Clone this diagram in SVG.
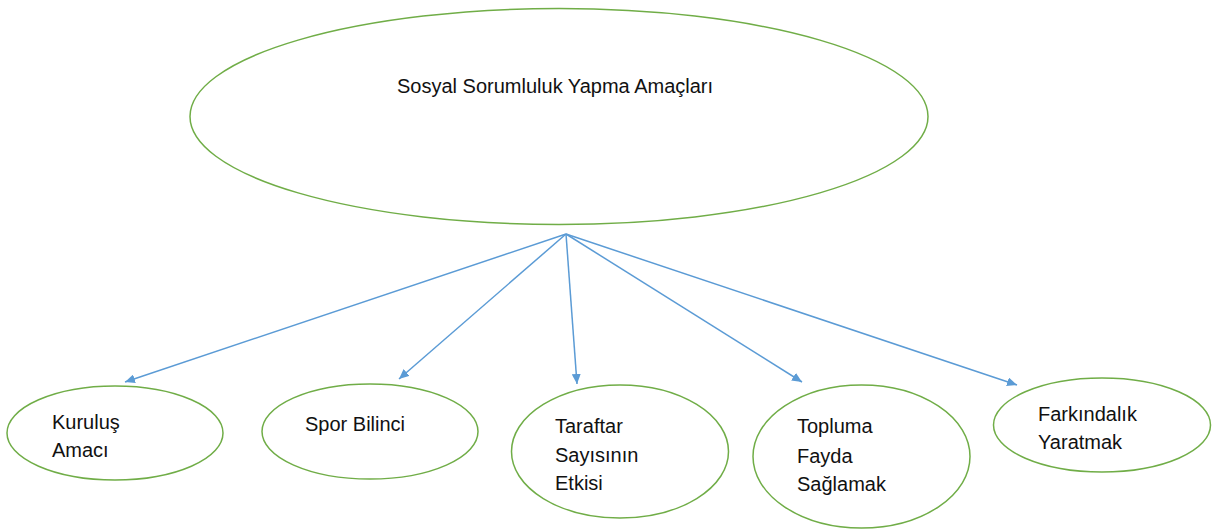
<svg xmlns="http://www.w3.org/2000/svg" width="1222" height="532" viewBox="0 0 1222 532">
<style>
.node ellipse{fill:#fff;stroke:#70AD47;stroke-width:1.5}
.node text{font-family:"Liberation Sans",Arial,sans-serif;font-size:20px;fill:#111}
.conn line{stroke:#5B9BD5;stroke-width:1.5;marker-end:url(#arr)}
</style>
<defs>
<marker id="arr" viewBox="0 0 10 10" refX="10" refY="5" markerWidth="10" markerHeight="9" markerUnits="userSpaceOnUse" orient="auto" preserveAspectRatio="none">
<path d="M0,0 L10,5 L0,10 z" fill="#5B9BD5"/>
</marker>
</defs>
<rect width="1222" height="532" fill="#fff"/>
<g id="root" class="node">
<ellipse cx="559" cy="116.5" rx="369" ry="108"/>
<text x="397" y="93">Sosyal Sorumluluk Yapma Amaçları</text>
</g>
<g id="kurulus" class="node">
<ellipse cx="115" cy="433" rx="108" ry="47"/>
<text x="52" y="429">Kuruluş</text>
<text x="52" y="457">Amacı</text>
</g>
<g id="spor" class="node">
<ellipse cx="370" cy="431.5" rx="108" ry="47.5"/>
<text x="305" y="431">Spor Bilinci</text>
</g>
<g id="taraftar" class="node">
<ellipse cx="620" cy="451.5" rx="108.5" ry="66.5"/>
<text x="555" y="433">Taraftar</text>
<text x="555" y="462">Sayısının</text>
<text x="555" y="490">Etkisi</text>
</g>
<g id="topluma" class="node">
<ellipse cx="861.5" cy="456.5" rx="108.5" ry="71.5"/>
<text x="797" y="433">Topluma</text>
<text x="797" y="463">Fayda</text>
<text x="797" y="491">Sağlamak</text>
</g>
<g id="farkindalik" class="node">
<ellipse cx="1102" cy="425" rx="108.5" ry="47"/>
<text x="1038" y="421">Farkındalık</text>
<text x="1038" y="449">Yaratmak</text>
</g>
<g id="connectors" class="conn">
<line x1="566" y1="234" x2="125" y2="382"/>
<line x1="566" y1="234" x2="399" y2="379"/>
<line x1="566" y1="234" x2="577" y2="384"/>
<line x1="566" y1="234" x2="802" y2="382"/>
<line x1="566" y1="234" x2="1017" y2="385"/>
</g>
</svg>
